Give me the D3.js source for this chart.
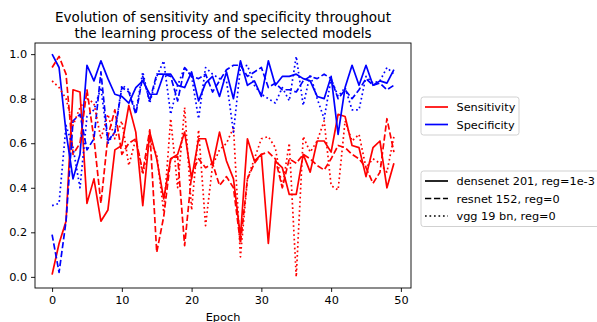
<!DOCTYPE html>
<html>
<head>
<meta charset="utf-8">
<script src="https://cdn.jsdelivr.net/npm/d3@7"></script>
<style>
  body { margin: 0; background: #fff; }
  svg { font-family: "DejaVu Sans", sans-serif; }
</style>
</head>
<body>
<div id="chart"></div>
<script>
// epochs 0..49
const epochs = d3.range(50);

// densenet 201, reg=1e-3
const densenetSens = [0.01,0.15,0.25,0.84,0.83,0.33,0.44,0.25,0.30,0.57,0.59,0.77,0.65,0.32,0.65,0.53,0.35,0.53,0.55,0.65,
  0.44,0.62,0.62,0.50,0.65,0.52,0.44,0.18,0.62,0.52,0.55,0.15,0.52,0.49,0.37,0.37,0.55,0.47,0.61,0.61,
  0.56,0.73,0.72,0.59,0.58,0.45,0.58,0.61,0.40,0.51];
const densenetSpec = [1.00,0.94,0.65,0.44,0.55,0.95,0.88,0.97,0.89,0.82,0.81,0.78,0.85,0.88,0.82,0.82,0.91,0.91,0.86,0.85,
  0.92,0.79,0.87,0.90,0.81,0.92,0.80,0.97,0.86,0.88,0.81,0.97,0.86,0.90,0.90,0.91,0.89,0.88,0.81,0.80,
  0.90,0.64,0.85,0.95,0.86,0.95,0.86,0.88,0.87,0.93];

// resnet 152, reg=0
const resnetSens = [0.94,0.99,0.91,0.55,0.60,0.84,0.62,0.33,0.63,0.75,0.55,0.60,0.62,0.47,0.66,0.11,0.27,0.53,0.54,0.14,
  0.46,0.53,0.49,0.51,0.41,0.45,0.40,0.15,0.44,0.51,0.55,0.56,0.53,0.40,0.53,0.51,0.55,0.53,0.50,0.48,
  0.53,0.59,0.58,0.55,0.53,0.49,0.42,0.47,0.71,0.56];
const resnetSpec = [0.19,0.02,0.25,0.70,0.73,0.57,0.62,0.92,0.61,0.65,0.85,0.83,0.73,0.90,0.79,0.91,0.91,0.90,0.79,0.94,
  0.90,0.89,0.91,0.83,0.88,0.93,0.95,0.95,0.90,0.92,0.94,0.85,0.87,0.84,0.84,0.83,0.88,0.90,0.89,0.91,
  0.89,0.80,0.84,0.80,0.84,0.89,0.86,0.87,0.84,0.86];

// vgg 19 bn, reg=0
const vggSens = [0.88,0.85,0.80,0.68,0.76,0.80,0.78,0.62,0.73,0.62,0.70,0.50,0.62,0.46,0.61,0.55,0.29,0.71,0.40,0.76,
  0.30,0.66,0.23,0.50,0.57,0.60,0.67,0.09,0.44,0.53,0.62,0.63,0.58,0.40,0.60,0.00,0.63,0.56,0.61,0.70,
  0.41,0.39,0.70,0.61,0.64,0.49,0.53,0.51,0.47,0.63];
const vggSpec = [0.32,0.33,0.68,0.58,0.40,0.72,0.75,0.85,0.60,0.65,0.86,0.84,0.74,0.92,0.78,0.90,0.97,0.73,0.86,0.94,
  0.90,0.71,0.94,0.91,0.89,0.88,0.65,0.94,0.95,0.86,0.82,0.80,0.78,0.85,0.79,0.99,0.77,0.91,0.80,0.71,
  0.89,0.81,0.85,0.75,0.75,0.90,0.87,0.88,0.94,0.91];

const xTicks = [0, 10, 20, 30, 40, 50];
const yTicks = [0.0, 0.2, 0.4, 0.6, 0.8, 1.0];

const titleLines = ["Evolution of sensitivity and specificity throughout",
                    "the learning process of the selected models"];
const metricNames = ["Sensitivity", "Specificity"];
const metricColors = ["red", "blue"];
const modelNames = ["densenet 201, reg=1e-3", "resnet 152, reg=0", "vgg 19 bn, reg=0"];

// figure seems rendered at ~81 dpi: 1pt = 1.13px
const pt = 1.13;
const modelDash = [null, [3.7 * 1.5 * pt, 1.6 * 1.5 * pt].join(","), [1 * 1.5 * pt, 1.65 * 1.5 * pt].join(",")];

const W = 597, H = 322;
const plot = {left: 35, right: 411, top: 43, bottom: 288};

const svg = d3.select("#chart").append("svg")
  .attr("width", W).attr("height", H);

const x = d3.scaleLinear().domain([-2.45, 51.45]).range([plot.left, plot.right]);
const y = d3.scaleLinear().domain([-0.05, 1.05]).range([plot.bottom, plot.top]);

const series = [
  {v: densenetSens, c: 0, m: 0}, {v: densenetSpec, c: 1, m: 0},
  {v: resnetSens, c: 0, m: 1}, {v: resnetSpec, c: 1, m: 1},
  {v: vggSens, c: 0, m: 2}, {v: vggSpec, c: 1, m: 2}
];

const line = d3.line().x((d, i) => x(epochs[i])).y(d => y(d));

svg.append("defs").append("clipPath").attr("id", "clip")
  .append("rect").attr("x", plot.left).attr("y", plot.top)
  .attr("width", plot.right - plot.left).attr("height", plot.bottom - plot.top);

svg.append("g").attr("clip-path", "url(#clip)")
  .selectAll("path").data(series).join("path")
  .attr("fill", "none")
  .attr("stroke", d => metricColors[d.c])
  .attr("stroke-width", 1.5 * pt)
  .attr("stroke-dasharray", d => modelDash[d.m])
  .attr("stroke-linejoin", "round")
  .attr("d", d => line(d.v));

// axes
const xAxis = svg.append("g")
  .attr("transform", `translate(0,${plot.bottom})`)
  .call(d3.axisBottom(x).tickValues(xTicks).tickSize(3.5 * pt).tickPadding(3.5 * pt).tickFormat(d3.format("d")));
const yAxis = svg.append("g")
  .attr("transform", `translate(${plot.left},0)`)
  .call(d3.axisLeft(y).tickValues(yTicks).tickSize(3.5 * pt).tickPadding(3.5 * pt).tickFormat(d3.format(".1f")));
[xAxis, yAxis].forEach(g => {
  g.select(".domain").remove();
  g.selectAll("line").attr("stroke", "#000").attr("stroke-width", 0.8 * pt);
  g.selectAll("text").attr("font-size", 10 * pt).attr("fill", "#000")
    .attr("font-family", "DejaVu Sans");
});

// frame
svg.append("rect")
  .attr("x", plot.left).attr("y", plot.top)
  .attr("width", plot.right - plot.left).attr("height", plot.bottom - plot.top)
  .attr("fill", "none").attr("stroke", "#000").attr("stroke-width", 0.8 * pt);

// title
svg.append("g").selectAll("text").data(titleLines).join("text")
  .attr("x", (plot.left + plot.right) / 2)
  .attr("y", (d, i) => 22 + i * 15.5)
  .attr("text-anchor", "middle")
  .attr("font-size", 12 * pt)
  .text(d => d);

// x label
svg.append("text")
  .attr("x", (plot.left + plot.right) / 2).attr("y", 320.5)
  .attr("text-anchor", "middle").attr("font-size", 10 * pt)
  .text("Epoch");

// legends
function legend(top, width, items) {
  const g = svg.append("g");
  const rowH = 17.5;
  const h = items.length * rowH + 3;
  g.append("rect").attr("x", 421).attr("y", top).attr("width", width).attr("height", h)
    .attr("rx", 2.5).attr("fill", "#fff").attr("fill-opacity", 0.8)
    .attr("stroke", "#cccccc").attr("stroke-width", 0.8 * pt);
  const row = g.selectAll("g.row").data(items).join("g")
    .attr("transform", (d, i) => `translate(0,${top + 10 + i * rowH})`);
  row.append("line").attr("x1", 425).attr("x2", 448)
    .attr("stroke", d => d.color).attr("stroke-width", 1.5 * pt)
    .attr("stroke-dasharray", d => d.dash);
  row.append("text").attr("x", 456.5).attr("y", 4).attr("font-size", 10 * pt)
    .text(d => d.label);
}
legend(97, 98, metricNames.map((n, i) => ({label: n, color: metricColors[i], dash: null})));
legend(171, 190, modelNames.map((n, i) => ({label: n, color: "#000", dash: modelDash[i]})));
</script>
</body>
</html>
